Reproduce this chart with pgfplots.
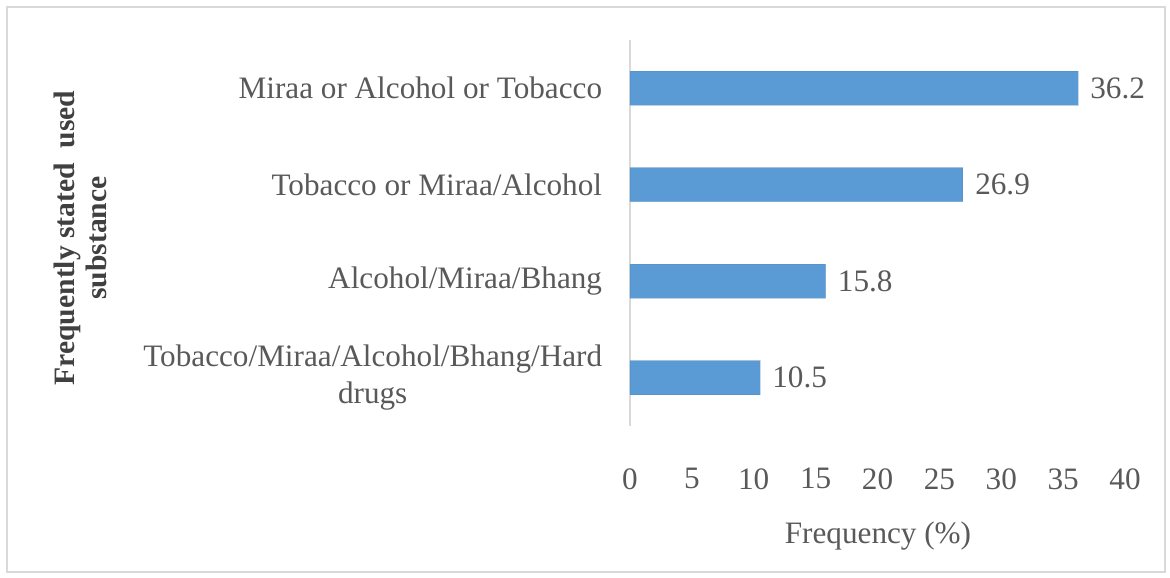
\documentclass[border=0pt]{standalone}
\usepackage{pgfplots}
\pgfplotsset{compat=1.18}
\usepackage{fontspec}
\setmainfont{Liberation Serif}
\definecolor{barblue}{HTML}{5B9BD5}
\definecolor{txtgray}{HTML}{595959}
\definecolor{axgray}{HTML}{D9D9D9}
\definecolor{labgray}{HTML}{404040}
\begin{document}
\begin{tikzpicture}
\useasboundingbox (-315pt,-75.5pt) rectangle (270pt,213pt);
\draw[axgray, line width=0.8pt] (-311.5pt,-73pt) rectangle (267.5pt,209.5pt);
\begin{axis}[
  at={(0,0)}, anchor=south west,
  scale only axis,
  width=247.5pt, height=193pt,
  xbar, bar width=17pt,
  xmin=0, xmax=40,
  ymin=-0.5, ymax=3.5,
  xtick={0,5,...,40},
  ytick={0,1,2,3},
  yticklabels={{Tobacco/Miraa/Alcohol/Bhang/Hard\\drugs},{Alcohol/Miraa/Bhang},{Tobacco or Miraa/Alcohol},{Miraa or Alcohol or Tobacco}},
  axis lines*=left,
  x axis line style={draw=none},
  y axis line style={draw=axgray, line width=0.8pt},
  major tick style={draw=none},
  /pgf/number format/assume math mode=true,
  tick label style={font=\fontsize{15.6}{18.5}\selectfont, text=txtgray},
  yticklabel style={anchor=east, align=center, inner sep=0pt, xshift=-9.5pt},
  xticklabel style={anchor=north, inner sep=0pt, yshift=-21pt},
  xlabel={Frequency (\%)},
  xlabel style={at={(axis description cs:0.501,-0.285)}, anchor=center, font=\fontsize{15.6}{18}\selectfont, text=txtgray},
  ylabel={Frequently stated\ \ used\\substance},
  ylabel style={at={(axis description cs:-1.111,0.487)}, anchor=center, rotate=0, align=center, font=\fontsize{14.8}{16}\selectfont\bfseries, text=labgray},
  nodes near coords,
  point meta=explicit symbolic,
  nodes near coords style={anchor=west, inner sep=0pt, xshift=6pt, font=\fontsize{15.6}{18}\selectfont, text=txtgray},
]
\addplot[fill=barblue, draw=barblue!85!black, draw opacity=0.3] coordinates {
  (10.5,0) [10.5]
  (15.8,1) [15.8]
  (26.9,2) [26.9]
  (36.2,3) [36.2]
};
\end{axis}
\end{tikzpicture}
\end{document}
